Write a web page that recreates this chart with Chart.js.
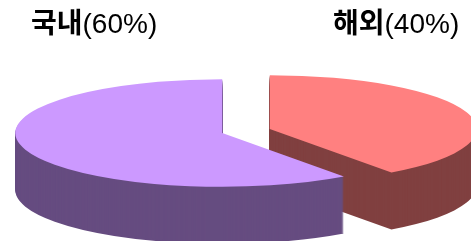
<!DOCTYPE html>
<html>
<head>
<meta charset="utf-8">
<script src="https://cdn.jsdelivr.net/npm/chart.js@4/dist/chart.umd.min.js"></script>
<style>
  html, body { margin: 0; padding: 0; background: #fff; overflow: hidden; }
  canvas { display: block; }
</style>
</head>
<body>
<canvas id="pie" width="471" height="241"></canvas>
<script>
const categories = ["국내", "해외"];
const shares = [60, 40];
const topColors = ["#CC99FF", "#FF8080"];
const sideColors = ["#664C80", "#804040"];
// where each category label sits (text layout only)
const labelPos = [[31, 33], [333, 33]];

const DEPTH = 57;      // thickness of the pie, px
const SQUASH = 0.26;   // vertical tilt
const EXPLODE = 25;    // slice pull-out, px before tilt

function el(id) {
  return document.getElementById(id);
}

// draws the pie as a tilted, extruded disc
const pie3d = {
  id: "pie3d",
  beforeDatasetsDraw(chart) {
    const ctx = chart.ctx;
    const meta = chart.getDatasetMeta(0);
    for (let k = DEPTH; k >= 0; k--) {
      meta.data.forEach((arc, i) => {
        const mid = (arc.startAngle + arc.endAngle) / 2;
        const layer = Object.create(arc);
        layer.options = Object.assign({}, arc.options, {
          backgroundColor: k ? sideColors[i] : topColors[i],
          borderWidth: 0,
          offset: 0,
        });
        ctx.save();
        ctx.translate(arc.x, arc.y + k);
        ctx.scale(1, SQUASH);
        ctx.translate(Math.cos(mid) * EXPLODE, Math.sin(mid) * EXPLODE);
        ctx.translate(-arc.x, -arc.y);
        layer.draw(ctx);
        ctx.restore();
      });
    }
    return false;
  },
  afterDraw(chart) {
    const ctx = chart.ctx;
    const data = chart.data.datasets[0].data;
    const total = data.reduce((a, b) => a + b, 0);
    ctx.save();
    ctx.fillStyle = "#000";
    ctx.textBaseline = "alphabetic";
    chart.data.labels.forEach((name, i) => {
      const [x, y] = labelPos[i];
      ctx.font = 'bold 28px "Noto Sans CJK KR"';
      ctx.fillText(name, x, y);
      const w = ctx.measureText(name).width;
      ctx.font = '28px "Liberation Sans"';
      ctx.fillText(`(${Math.round((data[i] / total) * 100)}%)`, x + w, y);
    });
    ctx.restore();
  },
};

new Chart(el("pie").getContext("2d"), {
  type: "pie",
  data: {
    labels: categories,
    datasets: [{
      data: shares,
      backgroundColor: topColors,
      borderWidth: 0,
    }],
  },
  options: {
    responsive: false,
    animation: false,
    rotation: 144,
    radius: 207,
    layout: { padding: { left: 21, right: 0, top: 21, bottom: 0 } },
    plugins: {
      legend: { display: false },
      tooltip: { enabled: false },
    },
  },
  plugins: [pie3d],
});
</script>
</body>
</html>
